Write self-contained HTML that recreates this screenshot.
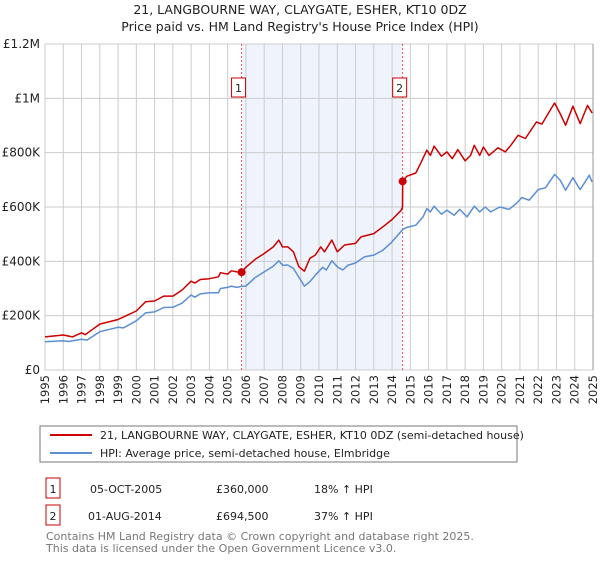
<!DOCTYPE html>
<html><head><meta charset="utf-8"><style>
body{margin:0;background:#fff;font-family:"Liberation Sans","DejaVu Sans",sans-serif}
svg text{font-family:"DejaVu Sans","Liberation Sans",sans-serif}
</style></head><body>
<svg id="chart" width="600" height="560" viewBox="0 0 600 560" xmlns="http://www.w3.org/2000/svg">
<text x="300" y="14" text-anchor="middle" font-size="12.5" fill="#222">21, LANGBOURNE WAY, CLAYGATE, ESHER, KT10 0DZ</text>
<text x="300" y="31" text-anchor="middle" font-size="12.5" fill="#222">Price paid vs. HM Land Registry's House Price Index (HPI)</text>
<g id="grid"></g>
<g id="axes"></g>
<g id="series"></g>
<rect x="40" y="426" width="477" height="36" fill="#fff" stroke="#777"/>
<line x1="50" y1="435" x2="92" y2="435" stroke="#cc0000" stroke-width="2"/>
<text x="100" y="439" font-size="11" fill="#222">21, LANGBOURNE WAY, CLAYGATE, ESHER, KT10 0DZ (semi-detached house)</text>
<line x1="50" y1="453" x2="92" y2="453" stroke="#5b8fd4" stroke-width="2"/>
<text x="100" y="457" font-size="11" fill="#222">HPI: Average price, semi-detached house, Elmbridge</text>
<g>
<rect x="46" y="478" width="14" height="20" fill="#fff" stroke="#cc0000"/>
<text x="53" y="493" text-anchor="middle" font-size="11" fill="#222">1</text>
<text x="90" y="493" font-size="11" fill="#222">05-OCT-2005</text>
<text x="216" y="493" font-size="11" fill="#222">£360,000</text>
<text x="314" y="493" font-size="11" fill="#222">18% ↑ HPI</text>
</g>
<g>
<rect x="46" y="505" width="14" height="20" fill="#fff" stroke="#cc0000"/>
<text x="53" y="520" text-anchor="middle" font-size="11" fill="#222">2</text>
<text x="88" y="520" font-size="11" fill="#222">01-AUG-2014</text>
<text x="216" y="520" font-size="11" fill="#222">£694,500</text>
<text x="314" y="520" font-size="11" fill="#222">37% ↑ HPI</text>
</g>
<text x="46" y="540" font-size="11" fill="#777">Contains HM Land Registry data © Crown copyright and database right 2025.</text>
<text x="46" y="552" font-size="11" fill="#777">This data is licensed under the Open Government Licence v3.0.</text>
</svg>
<script>
const hpiYears=[1995,1996,1996.3,1997,1997.3,1998,1999,1999.3,2000,2000.5,2001,2001.5,2002,2002.5,2003,2003.2,2003.5,2004,2004.5,2004.6,2005,2005.2,2005.5,2005.76,2006,2006.5,2007,2007.5,2007.8,2008,2008.3,2008.6,2009,2009.2,2009.5,2009.8,2010.2,2010.4,2010.7,2011,2011.3,2011.6,2012,2012.5,2013,2013.5,2014,2014.58,2014.8,2015.3,2015.7,2015.9,2016.1,2016.3,2016.7,2017,2017.4,2017.7,2018.1,2018.5,2018.8,2019.1,2019.4,2019.9,2020.4,2020.8,2021.1,2021.5,2022,2022.4,2022.9,2023.2,2023.5,2023.9,2024.3,2024.8,2024.95];
const hpiValues=[104,108,105,113,110,141,157,155,181,210,214,230,231,246,276,268,280,284,284,300,304,309,304,308,309,340,361,382,402,386,386,374,331,309,325,349,378,368,402,380,368,386,394,417,423,441,472,517,525,533,564,594,582,603,574,588,570,591,564,603,582,600,582,600,591,613,635,625,664,671,720,699,662,708,664,717,692];
const propYears=[1995,1996,1996.5,1997,1997.2,1998,1999,2000,2000.5,2001,2001.5,2002,2002.5,2003,2003.2,2003.5,2004,2004.5,2004.6,2005,2005.2,2005.5,2005.76,2006,2006.5,2007,2007.5,2007.8,2008,2008.3,2008.6,2008.9,2009.2,2009.5,2009.8,2010.1,2010.3,2010.7,2011,2011.4,2012,2012.3,2013,2013.5,2014,2014.5,2014.57,2014.58,2014.8,2015.3,2015.6,2015.9,2016.1,2016.3,2016.7,2017,2017.3,2017.6,2018,2018.3,2018.5,2018.8,2019,2019.3,2019.8,2020.2,2020.5,2020.9,2021.3,2021.9,2022.2,2022.6,2022.9,2023.2,2023.5,2023.9,2024.3,2024.7,2024.95];
const propValues=[122,129,122,137,130,169,186,217,251,254,272,272,294,327,320,333,336,343,358,353,365,361,360,378,407,429,453,478,453,453,435,380,364,411,423,453,435,478,435,460,466,490,502,527,554,588,600,694.5,713,725,766,809,790,824,787,803,778,811,770,790,827,790,821,790,818,803,827,864,852,913,905,950,983,944,901,971,907,974,946];
const saleYears=[2005.76,2014.58];
const saleValues=[360,694.5];
const saleLabels=["1","2"];
const yTicks=[0,200,400,600,800,1000,1200];
const yTickLabels=["£0","£200K","£400K","£600K","£800K","£1M","£1.2M"];
const xTicks=[1995,1996,1997,1998,1999,2000,2001,2002,2003,2004,2005,2006,2007,2008,2009,2010,2011,2012,2013,2014,2015,2016,2017,2018,2019,2020,2021,2022,2023,2024,2025];

const NS="http://www.w3.org/2000/svg";
const X0=45,X1=593,Y0=370,Y1=44;
const xs=y=>X0+(y-1995)/30*(X1-X0);
const ys=v=>Y0-v/1200*(Y0-Y1);
function mk(tag,attrs,parent){const e=document.createElementNS(NS,tag);for(const k in attrs)e.setAttribute(k,attrs[k]);parent.appendChild(e);return e;}
const grid=document.getElementById('grid'),axes=document.getElementById('axes'),series=document.getElementById('series');

const shade=mk('rect',{x:xs(saleYears[0]),y:Y1,width:xs(saleYears[1])-xs(saleYears[0]),height:Y0-Y1,fill:'#eef3fc'},grid);


xTicks.forEach((t,i)=>{
  const l=mk('line',{x1:xs(t),x2:xs(t),y1:Y1,y2:Y0,stroke:'#cccccc','stroke-width':1},grid);
  
  
  const tx=mk('text',{x:0,y:0,'font-size':11.5,fill:'#222','text-anchor':'end',transform:`translate(${xs(t)+4},375) rotate(-90)`},axes);
  tx.textContent=t;
  
  
});
yTicks.forEach((t,i)=>{
  const l=mk('line',{x1:X0,x2:X1,y1:ys(t),y2:ys(t),stroke:'#cccccc','stroke-width':1},grid);
  
  
  const tx=mk('text',{x:40,y:ys(t)+4,'font-size':12,fill:'#222','text-anchor':'end'},axes);
  tx.textContent=yTickLabels[i];
  
  
});
const rb=mk('line',{x1:X1,x2:X1,y1:Y1,y2:Y0,stroke:'#999',"stroke-width":1},grid);



saleYears.forEach((y,i)=>{
  const l=mk('line',{x1:xs(y),x2:xs(y),y1:Y1,y2:Y0,stroke:'#e05555','stroke-width':1,'stroke-dasharray':'2,2'},series);
  
  
  const r=mk('rect',{x:xs(y)-10,y:78,width:14,height:19,fill:'#fff',stroke:'#cc0000'},series);
  
  
  const t=mk('text',{x:xs(y)-3,y:92,'font-size':11,fill:'#222','text-anchor':'middle'},series);
  t.textContent=saleLabels[i];
  
  
});
function line(xa,va,color,name){
  const d=xa.map((x,i)=>(i?'L':'M')+xs(x).toFixed(1)+','+ys(va[i]).toFixed(1)).join('');
  const p=mk('path',{d:d,fill:'none',stroke:color,'stroke-width':1.5,'stroke-linejoin':'round'},series);
  
  
}
line(hpiYears,hpiValues,'#5b8fd4','hpi-line');
line(propYears,propValues,'#cc0000','property-price-line');
saleYears.forEach((y,i)=>{
  const c=mk('circle',{cx:xs(y),cy:ys(saleValues[i]),r:4,fill:'#cc0000'},series);
  
  
});
</script>
</body></html>
